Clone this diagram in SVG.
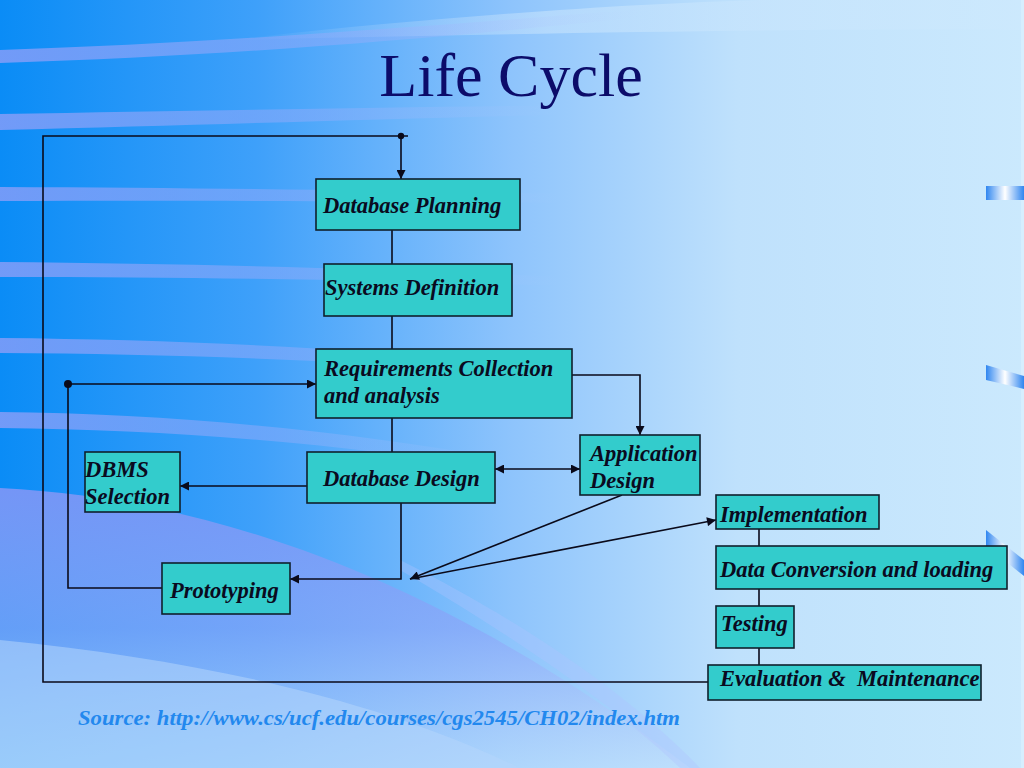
<svg xmlns="http://www.w3.org/2000/svg" width="1024" height="768" viewBox="0 0 1024 768">
<defs>
<linearGradient id="bg" x1="0" y1="0" x2="1" y2="0">
<stop offset="0" stop-color="#0a8cf6"/>
<stop offset="0.25" stop-color="#3ea0fa"/>
<stop offset="0.5" stop-color="#8ec4fc"/>
<stop offset="0.72" stop-color="#bfe1fc"/>
<stop offset="1" stop-color="#cbe9fd"/>
</linearGradient>
<linearGradient id="topPale" x1="0" y1="0" x2="1" y2="0">
<stop offset="0" stop-color="#9cc8fb" stop-opacity="0"/>
<stop offset="0.4" stop-color="#c4e2fd" stop-opacity="0.9"/>
<stop offset="1" stop-color="#cde9fd" stop-opacity="1"/>
</linearGradient>
<linearGradient id="stripe" x1="0" y1="0" x2="1" y2="0">
<stop offset="0" stop-color="#8c9ef8" stop-opacity="0.8"/>
<stop offset="0.45" stop-color="#98acfa" stop-opacity="0.45"/>
<stop offset="0.8" stop-color="#b8ccff" stop-opacity="0"/>
</linearGradient>
<linearGradient id="purple" x1="0" y1="0" x2="0" y2="1">
<stop offset="0" stop-color="#7a96f6" stop-opacity="0.95"/>
<stop offset="0.5" stop-color="#8aa6f8" stop-opacity="0.7"/>
<stop offset="1" stop-color="#c4e2fc" stop-opacity="0.6"/>
</linearGradient>
<linearGradient id="bar" x1="0" y1="0" x2="1" y2="0">
<stop offset="0" stop-color="#2f86f0"/>
<stop offset="0.5" stop-color="#ffffff"/>
<stop offset="1" stop-color="#2f86f0"/>
</linearGradient>
<marker id="arr" viewBox="0 0 10 10" refX="10" refY="5" markerWidth="11" markerHeight="9" markerUnits="userSpaceOnUse" orient="auto-start-reverse">
<path d="M0,0 L10,5 L0,10 Z" fill="#0a0a1a"/>
</marker>
<style>
.box{fill:#33cccc;stroke:#10202c;stroke-width:1.6}
.lbl{font-family:"Liberation Serif","Times New Roman",serif;font-weight:bold;font-style:italic;font-size:22.5px;fill:#0a0a20;white-space:pre}
.ln{fill:none;stroke:#0a0a1a;stroke-width:1.6}
.title{font-family:"Liberation Serif","Times New Roman",serif;font-size:62px;fill:#0c0c6a}
.src{font-family:"Liberation Serif","Times New Roman",serif;font-weight:bold;font-style:italic;font-size:22px;fill:#2288ee}
</style>
</defs>

<!-- background -->
<rect x="0" y="0" width="1024" height="768" fill="url(#bg)"/>
<path d="M230,40 C420,18 620,4 760,0 L1024,0 L1024,30 C800,28 500,34 230,40 Z" fill="url(#topPale)" opacity="0.7"/>
<path d="M0,50 C250,42 500,20 760,0 L800,0 C560,26 300,54 0,63 Z" fill="url(#stripe)"/>
<path d="M0,114 C250,110 450,106 700,104 L700,112 C450,116 250,124 0,130 Z" fill="url(#stripe)"/>
<path d="M0,187 C250,188 450,192 700,196 L700,204 C450,202 250,200 0,201 Z" fill="url(#stripe)"/>
<path d="M0,262 C250,264 450,272 700,282 L700,290 C450,282 250,277 0,277 Z" fill="url(#stripe)"/>
<path d="M0,338 C220,340 420,352 700,378 L700,386 C420,364 220,354 0,353 Z" fill="url(#stripe)"/>
<path d="M0,412 C200,414 400,436 620,480 L620,490 C400,448 200,430 0,428 Z" fill="url(#stripe)"/>
<path d="M0,488 C240,500 470,600 690,768 L0,768 Z" fill="url(#purple)"/>
<path d="M0,640 C200,660 380,700 520,768 L0,768 Z" fill="#b4d6fc" opacity="0.55"/>
<path d="M400,570 C520,640 620,710 680,768 L700,768 C640,705 540,630 400,560 Z" fill="#b0c4ff" opacity="0.35"/>
<rect x="1021" y="0" width="3" height="768" fill="#d6eefe"/>
<rect x="986" y="186" width="38" height="14" fill="url(#bar)"/>
<polygon points="986,365 1024,376 1024,389 986,380" fill="url(#bar)"/>
<polygon points="986,530 1024,560 1024,576 986,546" fill="url(#bar)"/>

<!-- title -->
<text class="title" x="511" y="96" text-anchor="middle">Life Cycle</text>

<!-- connectors -->
<g id="connectors">
<polyline class="ln" points="708,682 43,682 43,136 408,136"/>
<circle cx="401" cy="136" r="3.2" fill="#0a0a1a"/>
<line class="ln" x1="401" y1="136" x2="401" y2="179" marker-end="url(#arr)"/>
<line class="ln" x1="392" y1="230" x2="392" y2="264"/>
<line class="ln" x1="392" y1="316" x2="392" y2="349"/>
<line class="ln" x1="392" y1="418" x2="392" y2="452"/>
<circle cx="68" cy="384" r="4" fill="#0a0a1a"/>
<line class="ln" x1="68" y1="384" x2="316" y2="384" marker-end="url(#arr)"/>
<polyline class="ln" points="68,384 68,588 162,588"/>
<polyline class="ln" points="572,375 640,375 640,435" marker-end="url(#arr)"/>
<line class="ln" x1="495" y1="469" x2="580" y2="469" marker-start="url(#arr)" marker-end="url(#arr)"/>
<line class="ln" x1="307" y1="486" x2="180" y2="486" marker-end="url(#arr)"/>
<polyline class="ln" points="401,503 401,579 290,579" marker-end="url(#arr)"/>
<line class="ln" x1="622" y1="495" x2="410" y2="579" marker-end="url(#arr)"/>
<line class="ln" x1="410" y1="579" x2="716" y2="520" marker-end="url(#arr)"/>
<line class="ln" x1="759" y1="529" x2="759" y2="546"/>
<line class="ln" x1="759" y1="589" x2="759" y2="606"/>
<line class="ln" x1="759" y1="648" x2="759" y2="665"/>
</g>

<!-- nodes -->
<g id="database-planning">
<rect class="box" x="316" y="179" width="204" height="51"/>
<text class="lbl" x="323" y="213">Database Planning</text>
</g>
<g id="systems-definition">
<rect class="box" x="324" y="264" width="188" height="52"/>
<text class="lbl" x="325" y="295">Systems Definition</text>
</g>
<g id="requirements">
<rect class="box" x="316" y="349" width="256" height="69"/>
<text class="lbl" x="324" y="376">Requirements Collection</text>
<text class="lbl" x="324" y="403">and analysis</text>
</g>
<g id="database-design">
<rect class="box" x="307" y="452" width="188" height="51"/>
<text class="lbl" x="323" y="486">Database Design</text>
</g>
<g id="dbms-selection">
<rect class="box" x="85" y="452" width="95" height="60"/>
<text class="lbl" x="85" y="477">DBMS</text>
<text class="lbl" x="85" y="504">Selection</text>
</g>
<g id="application-design">
<rect class="box" x="580" y="435" width="120" height="60"/>
<text class="lbl" x="590" y="461">Application</text>
<text class="lbl" x="590" y="488">Design</text>
</g>
<g id="prototyping">
<rect class="box" x="162" y="563" width="128" height="51"/>
<text class="lbl" x="170" y="598">Prototyping</text>
</g>
<g id="implementation">
<rect class="box" x="716" y="495" width="163" height="34"/>
<text class="lbl" x="720" y="522">Implementation</text>
</g>
<g id="data-conversion">
<rect class="box" x="716" y="546" width="291" height="43"/>
<text class="lbl" x="720" y="577">Data Conversion and loading</text>
</g>
<g id="testing">
<rect class="box" x="716" y="606" width="78" height="42"/>
<text class="lbl" x="721" y="631">Testing</text>
</g>
<g id="evaluation">
<rect class="box" x="708" y="665" width="273" height="35"/>
<text class="lbl" x="720" y="686">Evaluation &amp;  Maintenance</text>
</g>

<text class="src" x="78" y="725" textLength="602" lengthAdjust="spacingAndGlyphs">Source: http://www.cs/ucf.edu/courses/cgs2545/CH02/index.htm</text>
</svg>
